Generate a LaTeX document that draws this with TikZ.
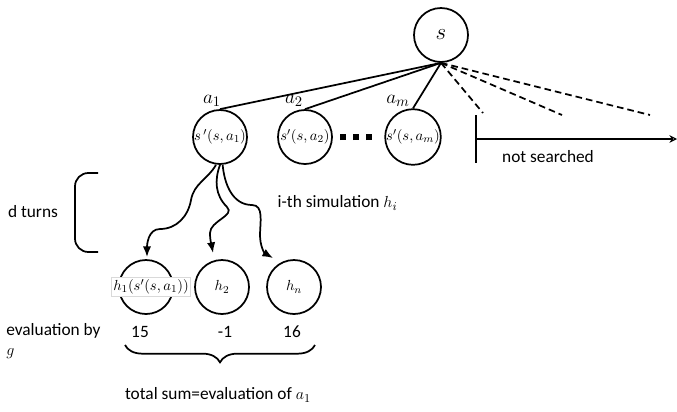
\documentclass[tikz,border=0pt]{standalone}
\usepackage{fontspec}
\setmainfont{Carlito}
\usetikzlibrary{arrows.meta,positioning,decorations.pathreplacing}
\tikzset{
  state/.style={circle,draw,line width=1.3pt,minimum size=40.5pt,inner sep=0pt,font=\fontsize{11}{13}\selectfont},
  branch/.style={line width=1.3pt},
  pruned/.style={line width=1.3pt,dash pattern=on 5pt off 3pt},
  rollout/.style={-{Latex[length=2.8mm,width=2.2mm]},line width=1.3pt},
  lbl/.style={font=\fontsize{13}{15}\selectfont},
  act/.style={font=\fontsize{15}{17}\selectfont},
}
\begin{document}
\begin{tikzpicture}[x=0.75pt,y=-0.75pt]
  \useasboundingbox (0,0) rectangle (677,411);
  % root and first level
  \node[state,font=\fontsize{18}{20}\selectfont] (s) at (441,35) {$s$};
  \node[state] (a1) at (220,137) {$s\,'(s,a_1)$};
  \node[state] (a2) at (305,137) {$s'(s,a_2)$};
  \node[state] (am) at (413,137) {$s'(s,a_m)$};
  \node[act] (la1) at (212,101) {$a_1$};
  \node[act] (la2) at (294,101) {$a_2$};
  \node[act] (lam) at (398,101) {$a_m$};
  \node (dots) at (356,137) {\rule{4.5pt}{4.5pt}\hspace{5pt}\rule{4.5pt}{4.5pt}\hspace{5pt}\rule{4.5pt}{4.5pt}};
  \draw[branch] (s.south) -- (a1.north);
  \draw[branch] (s.south) -- (a2.north);
  \draw[branch] (s.south) -- (am.north);
  % branches not searched
  \coordinate (p1) at (483,113);
  \coordinate (p2) at (562,115);
  \coordinate (p3) at (650,115);
  \draw[pruned] (s.south) -- (p1);
  \draw[pruned] (s.south) -- (p2);
  \draw[pruned] (s.south) -- (p3);
  \coordinate (bt) at (476,115);
  \coordinate (bb) at (476,163);
  \coordinate (bm) at (476,139);
  \coordinate (bend) at (677,139);
  \draw[line width=1.3pt] (bt) -- (bb);
  \draw[-{Stealth[length=2mm,width=2mm,open]},line width=0.8pt] (bm) -- (bend);
  \node[lbl] (ns) at (548,157) {not searched};
  % simulations
  \node[state] (h1) at (146,287) {};
  \node[draw=gray!30,inner sep=1.5pt,fill=white,font=\fontsize{11}{13}\selectfont] (h1t) at (151,287) {$h_1(s'(s,a_1))$};
  \node[state] (h2) at (222,287) {$h_2$};
  \node[state] (hn) at (294,287) {$h_n$};
  \draw[rollout] ([xshift=-3pt]a1.south) to[out=-120,in=80] (191,200) to[out=-100,in=0] (160,229) to[out=180,in=90] (147,257);
  \draw[rollout] (a1.south) to[out=-110,in=135] (227,207) to[out=-45,in=90] (210,233) to[out=-90,in=100] (213,253);
  \draw[rollout] ([xshift=2pt]a1.south) to[out=-85,in=180] (252,205) to[out=0,in=90] (260,235) to[out=-90,in=150] (273,258);
  \node[lbl,anchor=west] (sim) at (273,203) {i-th simulation $h_i$};
  \draw[line width=1.3pt,rounded corners=10pt] (98,173) -- (75,173) -- (75,252) -- (98,252);
  \node[lbl] (dt) at (33,212) {d turns};
  % evaluation
  \node[lbl,anchor=north west,align=left,inner sep=0pt] (ev) at (6,323) {evaluation by\\$g$};
  \node[lbl] (v1) at (140,332) {15};
  \node[lbl] (v2) at (225,332) {-1};
  \node[lbl] (vn) at (292,332) {16};
  \coordinate (brl) at (125,345);
  \coordinate (brr) at (315,345);
  \draw[line width=1.3pt,decorate,decoration={brace,mirror,amplitude=13pt}] (brl) -- (brr);
  \node[lbl] (tot) at (218,395) {total sum=evaluation of $a_1$};
\end{tikzpicture}
\end{document}
